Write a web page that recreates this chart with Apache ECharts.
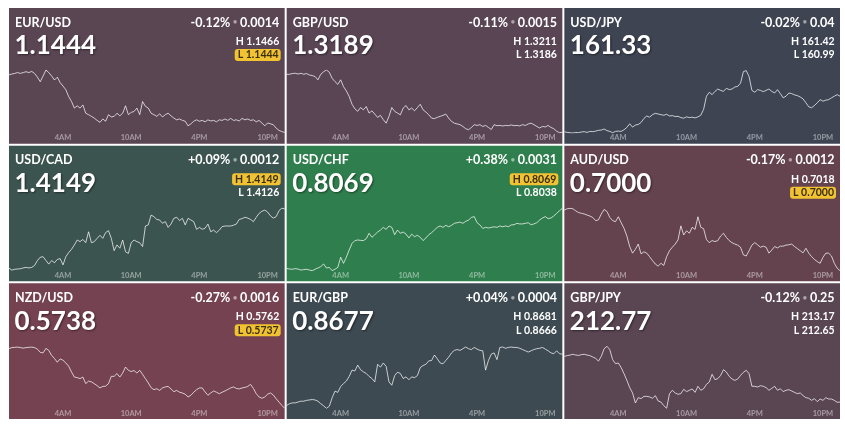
<!DOCTYPE html>
<html><head><meta charset="utf-8">
<script src="https://cdn.jsdelivr.net/npm/echarts@6/dist/echarts.min.js"></script>
<style>html,body{margin:0;padding:0;background:#fff}#c{width:845px;height:425px}</style>
</head><body><div id="c"></div>
<script>
const pairs = ['EUR/USD','GBP/USD','USD/JPY','USD/CAD','USD/CHF','AUD/USD','NZD/USD','EUR/GBP','GBP/JPY'];
const lastPrices = ['1.1444','1.3189','161.33','1.4149','0.8069','0.7000','0.5738','0.8677','212.77'];
const changePct = ['-0.12%','-0.11%','-0.02%','+0.09%','+0.38%','-0.17%','-0.27%','+0.04%','-0.12%'];
const changeAbs = ['0.0014','0.0015','0.04','0.0012','0.0031','0.0012','0.0016','0.0004','0.25'];
const highs = [1.1466,1.3211,161.42,1.4149,0.8069,0.7018,0.5762,0.8681,213.17];
const lows  = [1.1444,1.3186,160.99,1.4126,0.8038,0.7000,0.5737,0.8666,212.65];
const decimals = [4,4,2,4,4,4,4,4,2];
const atHigh = [false,false,false,true,true,false,false,false,false];
const atLow  = [true,false,false,false,false,true,true,false,false];
const tickLabels = ['4AM','10AM','4PM','10PM'];

const eurusd = [1.14643,1.14646,1.14648,1.14651,1.14648,1.14651,1.14654,1.14651,1.14655,1.14648,
1.14635,1.14619,1.14639,1.14660,1.14651,1.14639,1.14625,1.14635,1.14616,1.14604,
1.14591,1.14567,1.14550,1.14527,1.14535,1.14527,1.14538,1.14509,1.14504,1.14498,
1.14492,1.14484,1.14477,1.14489,1.14481,1.14504,1.14496,1.14498,1.14509,1.14500,
1.14509,1.14535,1.14504,1.14512,1.14515,1.14527,1.14504,1.14550,1.14533,1.14527,
1.14509,1.14504,1.14498,1.14507,1.14496,1.14504,1.14509,1.14500,1.14492,1.14486,
1.14489,1.14484,1.14481,1.14465,1.14472,1.14481,1.14486,1.14481,1.14484,1.14479,
1.14486,1.14482,1.14484,1.14479,1.14486,1.14484,1.14489,1.14484,1.14491,1.14484,
1.14486,1.14482,1.14491,1.14486,1.14489,1.14484,1.14486,1.14479,1.14484,1.14475,
1.14465,1.14475,1.14472,1.14469,1.14457,1.14449,1.14445,1.14442];
const gbpusd = [1.32093,1.32093,1.32096,1.32097,1.32094,1.32097,1.32093,1.32096,1.32090,1.32088,
1.32084,1.32071,1.32093,1.32103,1.32110,1.32101,1.32077,1.32064,1.32053,1.32071,
1.32044,1.32027,1.32005,1.31974,1.31956,1.31946,1.31961,1.31952,1.31965,1.31939,
1.31948,1.31935,1.31922,1.31930,1.31913,1.31899,1.31926,1.31961,1.31946,1.31939,
1.31932,1.31959,1.31969,1.31952,1.31959,1.31948,1.31961,1.31974,1.31952,1.31943,
1.31932,1.31919,1.31917,1.31922,1.31926,1.31930,1.31935,1.31919,1.31906,1.31899,
1.31896,1.31893,1.31886,1.31877,1.31873,1.31882,1.31893,1.31890,1.31893,1.31886,
1.31890,1.31882,1.31874,1.31893,1.31889,1.31890,1.31888,1.31890,1.31889,1.31892,
1.31889,1.31890,1.31888,1.31893,1.31890,1.31896,1.31899,1.31893,1.31886,1.31880,
1.31886,1.31884,1.31890,1.31882,1.31877,1.31867,1.31861,1.31863];
const usdjpy = [160.999,160.994,160.992,160.990,160.994,160.992,160.997,160.999,160.994,161.001,
160.999,161.003,161.008,161.010,161.017,161.006,161.001,160.992,161.001,161.003,
161.001,161.012,161.028,161.053,161.030,161.044,161.048,161.062,161.089,161.106,
161.098,161.115,161.124,161.120,161.115,161.111,161.118,161.106,161.109,161.102,
161.104,161.095,161.091,161.100,161.095,161.098,161.093,161.100,161.111,161.151,
161.241,161.268,161.252,161.274,161.290,161.281,161.274,161.295,161.286,161.290,
161.304,161.308,161.330,161.409,161.416,161.375,161.281,161.268,161.286,161.281,
161.272,161.281,161.290,161.274,161.263,161.286,161.259,161.230,161.241,161.263,
161.259,161.250,161.245,161.236,161.223,161.196,161.169,161.162,161.178,161.196,
161.218,161.207,161.214,161.218,161.230,161.241,161.252,161.241];
const usdcad = [1.41269,1.41262,1.41265,1.41266,1.41267,1.41270,1.41272,1.41270,1.41272,1.41279,
1.41297,1.41309,1.41311,1.41297,1.41284,1.41297,1.41289,1.41301,1.41304,1.41281,
1.41311,1.41326,1.41338,1.41354,1.41372,1.41366,1.41374,1.41362,1.41402,1.41362,
1.41366,1.41378,1.41389,1.41378,1.41399,1.41406,1.41378,1.41333,1.41354,1.41342,
1.41372,1.41329,1.41323,1.41362,1.41372,1.41366,1.41362,1.41348,1.41423,1.41427,
1.41463,1.41457,1.41447,1.41445,1.41433,1.41439,1.41418,1.41430,1.41451,1.41455,
1.41443,1.41451,1.41427,1.41451,1.41445,1.41439,1.41411,1.41418,1.41411,1.41415,
1.41430,1.41402,1.41408,1.41399,1.41408,1.41421,1.41423,1.41423,1.41423,1.41426,
1.41430,1.41447,1.41450,1.41455,1.41452,1.41447,1.41439,1.41455,1.41469,1.41477,
1.41481,1.41474,1.41460,1.41452,1.41457,1.41479,1.41488,1.41486];
const usdchf = [0.80391,0.80388,0.80387,0.80390,0.80388,0.80383,0.80385,0.80387,0.80383,0.80380,
0.80387,0.80393,0.80400,0.80413,0.80393,0.80396,0.80380,0.80387,0.80396,0.80446,
0.80416,0.80446,0.80482,0.80514,0.80528,0.80531,0.80529,0.80528,0.80537,0.80564,
0.80544,0.80557,0.80570,0.80580,0.80593,0.80583,0.80600,0.80593,0.80557,0.80580,
0.80564,0.80570,0.80560,0.80541,0.80560,0.80547,0.80554,0.80544,0.80528,0.80541,
0.80557,0.80567,0.80580,0.80593,0.80600,0.80593,0.80603,0.80596,0.80603,0.80613,
0.80616,0.80619,0.80613,0.80623,0.80629,0.80642,0.80646,0.80616,0.80605,0.80588,
0.80593,0.80590,0.80593,0.80596,0.80593,0.80600,0.80596,0.80600,0.80596,0.80605,
0.80606,0.80613,0.80610,0.80610,0.80613,0.80616,0.80606,0.80610,0.80616,0.80629,
0.80639,0.80646,0.80636,0.80639,0.80649,0.80662,0.80675,0.80687];
const audusd = [0.70173,0.70177,0.70178,0.70177,0.70171,0.70166,0.70164,0.70162,0.70159,0.70156,
0.70152,0.70143,0.70145,0.70162,0.70175,0.70169,0.70152,0.70143,0.70140,0.70154,
0.70137,0.70121,0.70099,0.70069,0.70050,0.70061,0.70076,0.70048,0.70054,0.70050,
0.70040,0.70029,0.70019,0.70013,0.70021,0.70015,0.70040,0.70057,0.70067,0.70076,
0.70088,0.70128,0.70102,0.70114,0.70107,0.70124,0.70118,0.70154,0.70124,0.70120,
0.70089,0.70080,0.70086,0.70083,0.70086,0.70099,0.70107,0.70095,0.70086,0.70080,
0.70076,0.70073,0.70067,0.70045,0.70042,0.70057,0.70073,0.70080,0.70074,0.70067,
0.70070,0.70067,0.70050,0.70059,0.70069,0.70065,0.70070,0.70070,0.70073,0.70074,
0.70076,0.70069,0.70063,0.70057,0.70051,0.70064,0.70050,0.70040,0.70032,0.70026,
0.70021,0.70038,0.70050,0.70050,0.70042,0.70021,0.70007,0.70000];
const nzdusd = [0.57607,0.57611,0.57612,0.57613,0.57611,0.57609,0.57611,0.57612,0.57613,0.57611,
0.57605,0.57592,0.57590,0.57608,0.57600,0.57580,0.57568,0.57553,0.57566,0.57561,
0.57550,0.57537,0.57514,0.57494,0.57492,0.57488,0.57494,0.57468,0.57478,0.57475,
0.57468,0.57460,0.57451,0.57457,0.57458,0.57468,0.57497,0.57497,0.57508,0.57494,
0.57510,0.57534,0.57521,0.57516,0.57520,0.57510,0.57521,0.57505,0.57488,0.57471,
0.57452,0.57444,0.57448,0.57441,0.57451,0.57455,0.57457,0.57447,0.57436,0.57441,
0.57434,0.57431,0.57426,0.57415,0.57422,0.57434,0.57444,0.57451,0.57451,0.57435,
0.57422,0.57431,0.57439,0.57434,0.57428,0.57434,0.57439,0.57445,0.57451,0.57455,
0.57449,0.57447,0.57451,0.57453,0.57457,0.57465,0.57449,0.57428,0.57415,0.57410,
0.57415,0.57426,0.57431,0.57423,0.57408,0.57395,0.57382,0.57370];
const eurgbp = [0.86667,0.86671,0.86673,0.86673,0.86675,0.86677,0.86677,0.86679,0.86680,0.86681,
0.86680,0.86677,0.86671,0.86666,0.86660,0.86665,0.86685,0.86701,0.86698,0.86712,
0.86719,0.86725,0.86736,0.86751,0.86749,0.86763,0.86752,0.86747,0.86743,0.86736,
0.86731,0.86723,0.86765,0.86758,0.86768,0.86760,0.86723,0.86715,0.86738,0.86746,
0.86743,0.86731,0.86735,0.86728,0.86735,0.86733,0.86738,0.86757,0.86762,0.86765,
0.86773,0.86774,0.86787,0.86778,0.86768,0.86766,0.86774,0.86782,0.86792,0.86798,
0.86800,0.86798,0.86802,0.86806,0.86802,0.86800,0.86805,0.86801,0.86798,0.86797,
0.86751,0.86774,0.86789,0.86792,0.86776,0.86805,0.86806,0.86803,0.86805,0.86806,
0.86805,0.86805,0.86803,0.86800,0.86797,0.86794,0.86797,0.86800,0.86802,0.86803,
0.86805,0.86801,0.86797,0.86792,0.86790,0.86797,0.86790,0.86789];
const gbpjpy = [213.079,213.085,213.090,213.096,213.090,213.087,213.093,213.096,213.090,213.085,
213.074,213.063,213.040,213.079,213.142,213.162,213.134,213.052,213.019,213.024,
212.986,212.936,212.881,212.821,212.777,212.694,212.738,212.730,212.749,212.749,
212.744,212.733,212.755,212.711,212.702,212.672,212.650,212.771,212.799,212.777,
212.766,212.771,212.807,212.788,212.799,212.810,212.782,212.832,212.799,212.812,
212.848,212.867,212.931,212.887,212.895,212.922,212.969,212.950,212.914,212.892,
212.881,212.892,212.922,212.947,212.964,212.936,212.832,212.832,212.826,212.837,
212.832,212.821,212.799,212.815,212.832,212.799,212.812,212.788,212.799,212.804,
212.793,212.782,212.771,212.777,212.755,212.738,212.733,212.716,212.730,212.705,
212.727,212.716,212.738,212.727,212.727,212.716,212.700,212.702];
const seriesData = [eurusd,gbpusd,usdjpy,usdcad,usdchf,audusd,nzdusd,eurgbp,gbpjpy];

// time categories: every 15 minutes from 11:15PM to 11:30PM next day
const times = [];
for (let i = 0; i < eurusd.length; i++) {
  const m = (23*60 + 15 + i*15) % 1440;
  const h = Math.floor(m/60), mm = m % 60;
  const h12 = h % 12 === 0 ? 12 : h % 12;
  times.push(h12 + (mm ? ':' + String(mm).padStart(2,'0') : '') + (h < 12 ? 'AM' : 'PM'));
}

// styles
const panelColors = ['#5a4553','#5a4555','#3e4452','#3c544f','#2f7e4d','#64434f','#744250','#3d4a51','#5a4552'];
const FONT = 'Lato, "Noto Sans", sans-serif';
const PW = 275.67, PH = 135.67, X0 = 9, Y0 = 8, GAP = 2;

const grids = [], xAxes = [], yAxes = [], series = [], graphics = [];
pairs.forEach((p, i) => {
  const c = i % 3, r = Math.floor(i / 3);
  const px = X0 + c * (PW + GAP), py = Y0 + r * (PH + GAP);
  grids.push({left: px, top: py + 62, width: PW, height: 63});
  xAxes.push({gridIndex: i, type: 'category', data: times, boundaryGap: false,
    axisLine: {show: false}, axisTick: {show: false}, splitLine: {show: false},
    axisLabel: {interval: (idx, val) => tickLabels.includes(val), margin: 1,
      color: 'rgba(255,255,255,0.45)', fontSize: 7.5, fontWeight: 'bold', fontFamily: FONT}});
  yAxes.push({gridIndex: i, type: 'value', min: lows[i], max: highs[i], show: false, splitLine: {show: false}});
  series.push({type: 'line', xAxisIndex: i, yAxisIndex: i, data: seriesData[i], showSymbol: false, symbol: 'none',
    silent: true, lineStyle: {width: 1, color: 'rgba(255,255,255,0.72)'}});

  graphics.push({type: 'rect', silent: true, z: -10, shape: {x: px, y: py, width: PW, height: PH}, style: {fill: panelColors[i]}});
  graphics.push({type: 'text', silent: true, z: 100, x: px + 6, y: py + 14.5,
    style: {text: p, fill: '#fff', fontSize: 12.5, fontWeight: 'bold', fontFamily: FONT,
      align: 'left', verticalAlign: 'middle', textAlign: 'left', textVerticalAlign: 'middle'}});
  graphics.push({type: 'text', silent: true, z: 100, x: px + PW - 5.4, y: py + 14.5,
    style: {text: '{a|' + changePct[i] + '}{d| • }{a|' + changeAbs[i] + '}',
      align: 'right', verticalAlign: 'middle', textAlign: 'right', textVerticalAlign: 'middle',
      rich: {a: {fill: '#fff', color: '#fff', fontSize: 12.5, fontWeight: 'bold', fontFamily: FONT},
             d: {fill: 'rgba(255,255,255,0.5)', color: 'rgba(255,255,255,0.5)', fontSize: 9, fontFamily: FONT}}}});
  graphics.push({type: 'text', silent: true, z: 100, x: px + 5.5, y: py + 38,
    style: {text: lastPrices[i], fill: '#fff', fontSize: 26, fontWeight: 'bold', fontFamily: FONT,
      align: 'left', verticalAlign: 'middle', textAlign: 'left', textVerticalAlign: 'middle',
      textShadowColor: 'rgba(0,0,0,0.45)', textShadowBlur: 2, textShadowOffsetX: 1, textShadowOffsetY: 1}});
  const hl = [['H ' + highs[i].toFixed(decimals[i]), atHigh[i], 33.5], ['L ' + lows[i].toFixed(decimals[i]), atLow[i], 47]];
  hl.forEach(([t, badge, dy]) => {
    const st = {text: t, fontSize: 10.5, fontWeight: 'bold', fontFamily: FONT,
      align: 'right', verticalAlign: 'middle', textAlign: 'right', textVerticalAlign: 'middle'};
    if (badge) {
      Object.assign(st, {fill: '#3a2f10', backgroundColor: '#f1c232', padding: [1, 2, 0, 3], borderRadius: 3});
    } else {
      st.fill = '#fff';
    }
    graphics.push({type: 'text', silent: true, z: 100, x: px + PW - (badge ? 4 : 5.4), y: py + dy, style: st});
  });
});

const chart = echarts.init(document.getElementById('c'), null, {renderer: 'canvas'});
chart.setOption({
  animation: false,
  backgroundColor: '#fff',
  grid: grids, xAxis: xAxes, yAxis: yAxes, series: series,
  graphic: {elements: graphics}
});
</script></body></html>
